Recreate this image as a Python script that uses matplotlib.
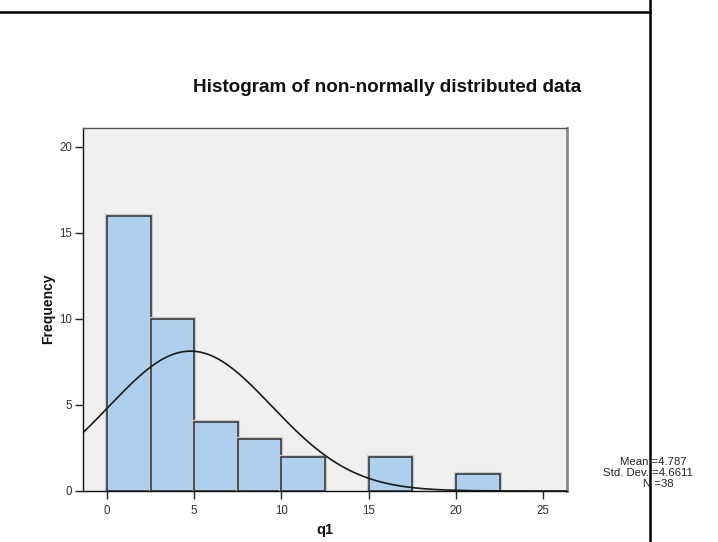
import numpy as np
import matplotlib
matplotlib.use("Agg")
import matplotlib.pyplot as plt
import matplotlib.patheffects as pe
from matplotlib.lines import Line2D

plt.rcParams['font.family'] = ['Liberation Sans', 'DejaVu Sans']

# Data
bin_edges = [0, 2.5, 5, 7.5, 10, 12.5, 15, 17.5, 20, 22.5, 25]
counts = [16, 10, 4, 3, 2, 0, 2, 0, 1, 0]
mean_val = 4.787
sd_val = 4.6611
n_val = 38
x_ticks = [0, 5, 10, 15, 20, 25]
y_ticks = [0, 5, 10, 15, 20]
title = "Histogram of non-normally distributed data"

fig = plt.figure(figsize=(7.18, 5.42), dpi=100)
ax = fig.add_axes([0.1156, 0.0941, 0.789 - 0.1156, 0.7638 - 0.0941])
ax.set_facecolor('#F0F0F0')

widths = np.diff(bin_edges)
lefts = np.array(bin_edges[:-1])
for l, w, c in zip(lefts, widths, counts):
    if c == 0:
        continue
    ax.bar(l, c, width=w, align='edge', color='#AED0EE', edgecolor='#2E2E2E',
           linewidth=1.1, zorder=2,
           path_effects=[pe.Stroke(linewidth=3.0, foreground='#CACACA'), pe.Normal()])

xmin, xmax = -1.376, 26.34
ax.set_xlim(xmin, xmax)
ax.set_ylim(0, 21.1)

binw = bin_edges[1] - bin_edges[0]
xs = np.linspace(xmin, xmax, 400)
ys = n_val * binw / (sd_val * np.sqrt(2 * np.pi)) * np.exp(-0.5 * ((xs - mean_val) / sd_val) ** 2)
ax.plot(xs, ys, color='#1A1A1A', linewidth=1.2, zorder=3)

ax.set_xticks(x_ticks)
ax.set_yticks(y_ticks)
ax.tick_params(axis='both', direction='out', length=6, width=1, color='#222222',
               labelsize=8.3, labelcolor='#333333')
ax.tick_params(axis='x', pad=4)
ax.tick_params(axis='y', pad=2)

ax.spines['left'].set_color('#111111')
ax.spines['bottom'].set_color('#111111')
ax.spines['left'].set_linewidth(1.0)
ax.spines['bottom'].set_linewidth(1.0)
ax.spines['top'].set_color('#555555')
ax.spines['top'].set_linewidth(1.0)
ax.spines['right'].set_color('#8A8A8A')
ax.spines['right'].set_linewidth(2.0)

ax.set_xlabel('q1', fontsize=10.5, fontweight='bold', color='#111111', va='center')
ax.xaxis.set_label_coords(0.5, -(530 - 491) / 363)
ax.set_ylabel('Frequency', fontsize=10, fontweight='bold', color='#111111', va='center')
ax.yaxis.set_label_coords((48.5 - 83.3) / 483.4, (491 - 309) / 363)

fig.text(387 / 718, 1 - 88 / 542, title, ha='center', va='center',
         fontsize=13.6, fontweight='bold', color='#111111')

stats = ["Mean =%.3f" % mean_val, "Std. Dev. =%.4f" % sd_val, "N =%d" % n_val]
centers = [653.5, 648, 658.5]
for i, (s, cx) in enumerate(zip(stats, centers)):
    fig.text(cx / 718, 1 - (462 + i * 10.8) / 542, s, ha='center', va='center',
             fontsize=8.2, color='#222222')

# frame lines
fig.add_artist(Line2D([0, 650 / 718], [1 - 12 / 542, 1 - 12 / 542], color='black',
                      linewidth=1.8, transform=fig.transFigure))
fig.add_artist(Line2D([650 / 718, 650 / 718], [0, 1], color='black',
                      linewidth=1.8, transform=fig.transFigure))

fig.savefig('out.png', dpi=100)
